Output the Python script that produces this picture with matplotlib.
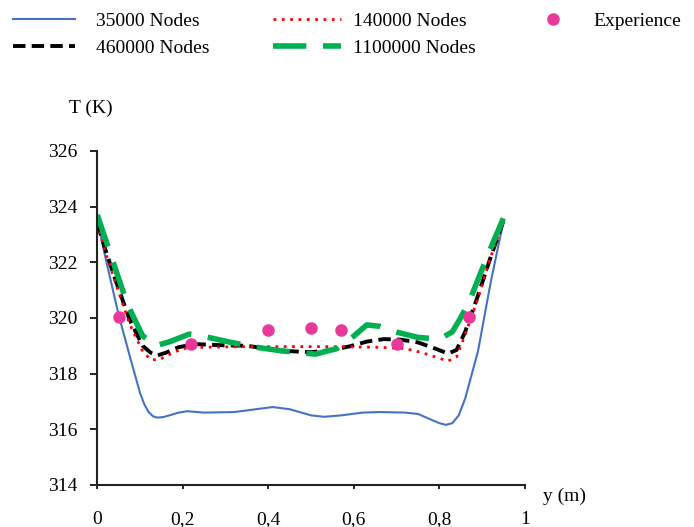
import matplotlib
matplotlib.use("Agg")
import matplotlib.pyplot as plt

plt.rcParams["font.family"] = ["Liberation Serif", "DejaVu Serif"]

# ------------------------------------------------------------------
# Data
# ------------------------------------------------------------------
y_35k = [0, 0.02, 0.05, 0.08, 0.10, 0.11, 0.12, 0.13, 0.14, 0.155, 0.175,
         0.19, 0.21, 0.25, 0.32, 0.37, 0.41, 0.45, 0.50, 0.53, 0.57, 0.62,
         0.66, 0.72, 0.75, 0.78, 0.80, 0.815, 0.83, 0.845, 0.86, 0.89, 0.92,
         0.95]
T_35k = [323.5, 322.1, 320.1, 318.4, 317.3, 316.9, 316.62, 316.47, 316.42,
         316.44, 316.53, 316.6, 316.65, 316.6, 316.62, 316.72, 316.8, 316.72,
         316.5, 316.45, 316.5, 316.6, 316.62, 316.6, 316.55, 316.35, 316.22,
         316.16, 316.22, 316.5, 317.1, 318.8, 321.3, 323.5]

y_140k = [0, 0.02, 0.044, 0.075, 0.106, 0.125, 0.145, 0.17, 0.20, 0.25, 0.35,
          0.45, 0.55, 0.65, 0.72, 0.76, 0.79, 0.82, 0.84, 0.86, 0.89, 0.92,
          0.95]
T_140k = [323.4, 322.3, 321.2, 319.8, 318.8, 318.5, 318.5, 318.7, 318.9,
          318.95, 318.97, 318.97, 318.97, 318.95, 318.9, 318.75, 318.6, 318.45,
          318.6, 319.4, 320.7, 322.2, 323.5]

y_460k = [0, 0.02, 0.044, 0.075, 0.106, 0.125, 0.14, 0.16, 0.19, 0.23, 0.29,
          0.35, 0.43, 0.50, 0.55, 0.59, 0.63, 0.67, 0.71, 0.75, 0.79, 0.82,
          0.84, 0.86, 0.89, 0.92, 0.95]
T_460k = [323.4, 322.4, 321.3, 319.96, 319.0, 318.75, 318.65, 318.75, 318.95,
          319.06, 319.02, 319.0, 318.82, 318.77, 318.85, 318.98, 319.15,
          319.24, 319.22, 319.12, 318.9, 318.72, 318.85, 319.5, 320.8, 322.2,
          323.5]

y_1100k = [0, 0.035, 0.07, 0.106, 0.137, 0.17, 0.215, 0.26, 0.31, 0.37, 0.43,
           0.51, 0.56, 0.60, 0.63, 0.66, 0.70, 0.75, 0.80, 0.83, 0.848, 0.87,
           0.90, 0.925, 0.95]
T_1100k = [323.7, 322.1, 320.5, 319.36, 319.0, 319.15, 319.42, 319.3, 319.13,
           318.95, 318.82, 318.7, 318.9, 319.35, 319.75, 319.7, 319.49, 319.3,
           319.24, 319.5, 319.96, 320.6, 321.76, 322.7, 323.6]

y_exp = [0.05, 0.22, 0.40, 0.50, 0.57, 0.70, 0.87]
T_exp = [320.05, 319.05, 319.55, 319.65, 319.55, 319.05, 320.05]

x_ticks = [0, 0.2, 0.4, 0.6, 0.8, 1]
x_labels = ["0", "0,2", "0,4", "0,6", "0,8", "1"]
y_ticks = [314, 316, 318, 320, 322, 324, 326]

# ------------------------------------------------------------------
# Figure
# ------------------------------------------------------------------
fig = plt.figure(figsize=(6.94, 5.27), dpi=100)
ax = fig.add_axes([0.1402, 0.0797, 0.6163, 0.634])

l1, = ax.plot(y_35k, T_35k, color="#4472C4", lw=1.5, label="35000 Nodes")
l2, = ax.plot(y_460k, T_460k, color="black", lw=2.8, dashes=(3.2, 1.6),
              label="460000 Nodes")
l3, = ax.plot(y_140k, T_140k, color="#FF0000", lw=2.0, dashes=(1, 2),
              label="140000 Nodes")
l4, = ax.plot(y_1100k, T_1100k, color="#00B050", lw=4.0, dashes=(6, 3),
              label="1100000 Nodes")
l5, = ax.plot(y_exp, T_exp, "o", color="#E8399A", ms=8, ls="none",
              label="Experience")

ax.set_xlim(0, 1)
ax.set_ylim(314, 326)
ax.set_xticks(x_ticks)
ax.set_xticklabels(x_labels)
ax.set_yticks(y_ticks)

for side in ("top", "right"):
    ax.spines[side].set_visible(False)
for side in ("left", "bottom"):
    ax.spines[side].set_linewidth(1.5)
    ax.spines[side].set_color("#222222")

ax.tick_params(axis="x", direction="out", length=3, width=1.2, pad=16,
               labelsize=14)
ax.tick_params(axis="y", direction="out", length=5, width=1.2, pad=9,
               labelsize=14)

fig.text(0.10, 0.795, "T (K)", fontsize=14, va="center", ha="left")
fig.text(0.782, 0.059, "y (m)", fontsize=14, va="center", ha="left")

# legend: three separate columns so each sits where it does in the original
leg_kw = dict(frameon=False, loc="upper left", fontsize=14,
              labelspacing=0.5, borderpad=0.0, borderaxespad=0.0)
fig.legend(handles=[l1, l2], bbox_to_anchor=(0.0187, 0.977),
           handlelength=3.2, handletextpad=1.05, **leg_kw)
fig.legend(handles=[l3, l4], bbox_to_anchor=(0.393, 0.977),
           handlelength=3.5, handletextpad=0.65, **leg_kw)
fig.legend(handles=[l5], bbox_to_anchor=(0.769, 0.977),
           handlelength=2.0, handletextpad=1.05, **leg_kw)

fig.savefig("out.png", dpi=100)
